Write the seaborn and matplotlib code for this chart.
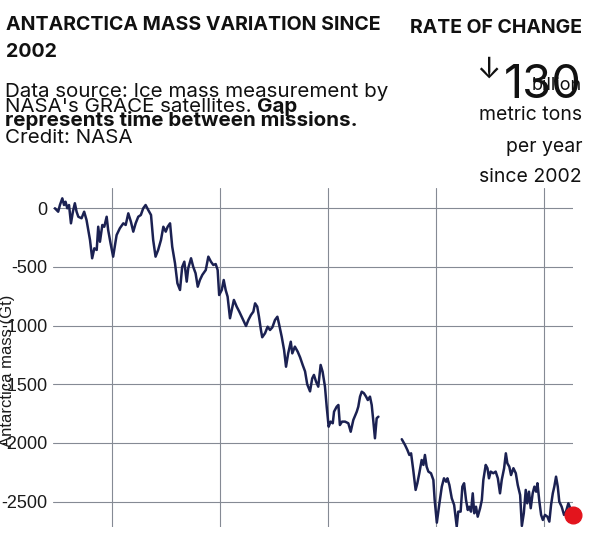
import matplotlib
matplotlib.use("Agg")
import matplotlib.pyplot as plt
import seaborn as sns
import pandas as pd

# ---- data ----
years1 = [2002.38, 2002.53, 2002.61, 2002.72, 2002.80, 2002.87, 2002.95, 2003.03, 2003.12, 2003.21,
          2003.30, 2003.38, 2003.46, 2003.61, 2003.73, 2003.84, 2004.00, 2004.10, 2004.20, 2004.31,
          2004.38, 2004.46, 2004.57, 2004.66, 2004.77, 2004.84, 2004.95, 2005.07, 2005.23, 2005.38,
          2005.54, 2005.65, 2005.77, 2005.89, 2006.00, 2006.11, 2006.23, 2006.35, 2006.46, 2006.57,
          2006.69, 2006.82, 2006.92, 2007.03, 2007.15, 2007.28, 2007.39, 2007.50, 2007.59, 2007.70,
          2007.80, 2007.93, 2008.04, 2008.16, 2008.26, 2008.36, 2008.47, 2008.54, 2008.67, 2008.77,
          2008.88, 2008.98, 2009.08, 2009.19, 2009.35, 2009.47, 2009.59, 2009.70, 2009.81, 2009.90,
          2009.97, 2010.09, 2010.18, 2010.27, 2010.36, 2010.47, 2010.55, 2010.65, 2010.78, 2010.90,
          2011.01, 2011.12, 2011.21, 2011.32, 2011.44, 2011.55, 2011.63, 2011.73, 2011.81, 2011.90,
          2011.96, 2012.09, 2012.21, 2012.32, 2012.43, 2012.55, 2012.66, 2012.73, 2012.86, 2012.97,
          2013.06, 2013.16, 2013.28, 2013.35, 2013.47, 2013.60, 2013.71, 2013.83, 2013.94, 2014.04,
          2014.17, 2014.27, 2014.35, 2014.45, 2014.55, 2014.66, 2014.75, 2014.86, 2014.94, 2015.03,
          2015.12, 2015.22, 2015.28, 2015.40, 2015.48, 2015.55, 2015.65, 2015.79, 2015.94, 2016.05,
          2016.17, 2016.33, 2016.40, 2016.48, 2016.56, 2016.66, 2016.76, 2016.84, 2016.94, 2017.02,
          2017.09, 2017.17, 2017.25, 2017.33]
mass1 = [0, -29, 28, 85, 28, 56, 0, 28, -128, -29,
         43, -29, -72, -85, -29, -100, -270, -426, -341, -355,
         -157, -285, -142, -157, -72, -185, -298, -412, -228, -170,
         -128, -142, -43, -114, -199, -128, -72, -57, 0, 28,
         -14, -57, -270, -412, -355, -270, -157, -199, -157, -128,
         -327, -470, -639, -696, -500, -455, -625, -511, -426, -498,
         -554, -668, -611, -568, -526, -412, -455, -483, -475, -526,
         -739, -696, -611, -696, -753, -937, -867, -781, -838, -881,
         -924, -966, -1003, -952, -909, -881, -810, -838, -924, -1037,
         -1099, -1065, -1009, -1037, -1014, -952, -924, -980, -1094, -1207,
         -1350, -1236, -1137, -1236, -1179, -1222, -1270, -1335, -1390, -1500,
         -1560, -1450, -1420, -1478, -1520, -1335, -1392, -1520, -1691, -1861,
         -1818, -1832, -1733, -1691, -1676, -1847, -1818, -1818, -1832, -1904,
         -1804, -1733, -1691, -1605, -1563, -1576, -1605, -1634, -1605, -1676,
         -1804, -1960, -1789, -1776]

years2 = [2018.41, 2018.56, 2018.67, 2018.76, 2018.84, 2018.94, 2019.05, 2019.13, 2019.22, 2019.33,
          2019.41, 2019.48, 2019.56, 2019.64, 2019.76, 2019.87, 2019.93, 2020.03, 2020.15, 2020.26,
          2020.36, 2020.46, 2020.52, 2020.61, 2020.72, 2020.83, 2020.95, 2021.02, 2021.13, 2021.21,
          2021.29, 2021.38, 2021.46, 2021.53, 2021.61, 2021.69, 2021.76, 2021.84, 2021.92, 2022.03,
          2022.11, 2022.18, 2022.29, 2022.37, 2022.44, 2022.52, 2022.64, 2022.75, 2022.85, 2022.95,
          2023.03, 2023.14, 2023.22, 2023.29, 2023.38, 2023.46, 2023.57, 2023.68, 2023.77, 2023.88,
          2023.96, 2024.05, 2024.14, 2024.21, 2024.29, 2024.37, 2024.46, 2024.54, 2024.62, 2024.68,
          2024.77, 2024.85, 2024.93, 2025.03, 2025.14, 2025.23, 2025.31, 2025.39, 2025.46, 2025.54,
          2025.62, 2025.69, 2025.80, 2025.91, 2026.00, 2026.11, 2026.31]
mass2 = [-1968, -2017, -2060, -2102, -2088, -2230, -2400, -2343, -2258, -2145,
         -2187, -2102, -2202, -2244, -2258, -2315, -2485, -2679, -2514, -2372,
         -2301, -2330, -2301, -2358, -2471, -2528, -2713, -2585, -2585, -2372,
         -2343, -2486, -2571, -2543, -2585, -2429, -2599, -2543, -2628, -2556,
         -2486, -2315, -2187, -2215, -2301, -2244, -2258, -2244, -2301, -2429,
         -2315, -2215, -2088, -2173, -2202, -2273, -2215, -2258, -2358, -2443,
         -2707, -2599, -2400, -2514, -2415, -2556, -2429, -2372, -2415, -2343,
         -2500, -2613, -2656, -2613, -2628, -2670, -2528, -2429, -2372, -2287,
         -2372, -2500, -2543, -2613, -2585, -2514, -2613]

x_grid_years = [2005, 2010, 2015, 2020, 2025]
y_ticks = [0, -500, -1000, -1500, -2000, -2500]
y_tick_labels = ["0", "-500", "-1000", "-1500", "-2000", "-2500"]

title_lines = ["ANTARCTICA MASS VARIATION SINCE", "2002"]
rate_value = "130"
rate_units = ["metric tons", "per year", "since 2002"]

# ---- figure ----
sns.set_theme(style="whitegrid")
plt.rcParams["font.family"] = ["Liberation Sans", "DejaVu Sans"]

W, H = 600, 552
fig = plt.figure(figsize=(W / 100, H / 100), dpi=100)
fig.patch.set_facecolor("white")
ax = fig.add_axes([53 / W, 1 - 527 / H, (572.7 - 53) / W, (527 - 188) / H])
ax.set_facecolor("white")

df = pd.DataFrame({
    "year": years1 + years2,
    "mass": mass1 + mass2,
    "mission": ["GRACE"] * len(years1) + ["GRACE-FO"] * len(years2),
})
navy = "#1b2152"
sns.lineplot(data=df, x="year", y="mass", units="mission", estimator=None,
             color=navy, linewidth=1.8, ax=ax, sort=False)
ax.plot([years2[-1]], [mass2[-1]], "o", color="#e3141d", markersize=12,
        clip_on=False, zorder=5)

ax.set_xlim(2002.29, 2026.31)
ax.set_ylim(-2716, 173)
ax.set_xticks(x_grid_years)
ax.set_xticklabels([""] * len(x_grid_years))
ax.set_yticks(y_ticks)
ax.set_yticklabels(y_tick_labels)
ax.tick_params(axis="both", length=0, pad=4, labelsize=13, labelcolor="#1a1a1a")
ax.grid(True, color="#858a94", linewidth=0.8)
for s in ax.spines.values():
    s.set_visible(False)
ax.set_xlabel("")
ax.set_ylabel("Antarctica mass (Gt)", fontsize=12, color="#1a1a1a")
ax.yaxis.set_label_coords(-0.073, 0.46)


def ftxt(x, y, s, **kw):
    return fig.text(x / W, 1 - y / H, s, **kw)


hdr = ["Inter", "DejaVu Sans"]
ftxt(6, 30, title_lines[0], family=hdr, weight="bold", fontsize=14.1, color="#111111")
ftxt(6, 57, title_lines[1], family=hdr, weight="bold", fontsize=14.1, color="#111111")

sub_fs = 14.8
ftxt(5, 97, "Data source: Ice mass measurement by", family=hdr, fontsize=sub_fs, color="#111111")
t2 = ftxt(5, 112, "NASA's GRACE satellites.", family=hdr, fontsize=sub_fs, color="#111111")
ftxt(5, 126, "represents time between missions.", family=hdr, weight="bold", fontsize=sub_fs, color="#111111")
ftxt(5, 143, "Credit: NASA", family=hdr, fontsize=sub_fs, color="#111111")
fig.canvas.draw()
bb = t2.get_window_extent(renderer=fig.canvas.get_renderer())
ftxt(bb.x1 + 5, 112, "Gap", family=hdr, weight="bold", fontsize=sub_fs, color="#111111")

ftxt(582, 33, "RATE OF CHANGE", family=hdr, weight="bold", fontsize=14, color="#111111", ha="right")
ftxt(476, 57, "\u2193", family=hdr, fontsize=21, color="#111111", va="top")
ftxt(582, 98, rate_value, family=hdr, fontsize=34, color="#111111", ha="right")
ftxt(582, 90, "billion", family=hdr, fontsize=13, color="#111111", ha="right")
for yy, s in zip([120, 152, 182], rate_units):
    ftxt(582, yy, s, family=hdr, fontsize=14, color="#111111", ha="right")

fig.savefig("out.png", dpi=100, facecolor="white")
